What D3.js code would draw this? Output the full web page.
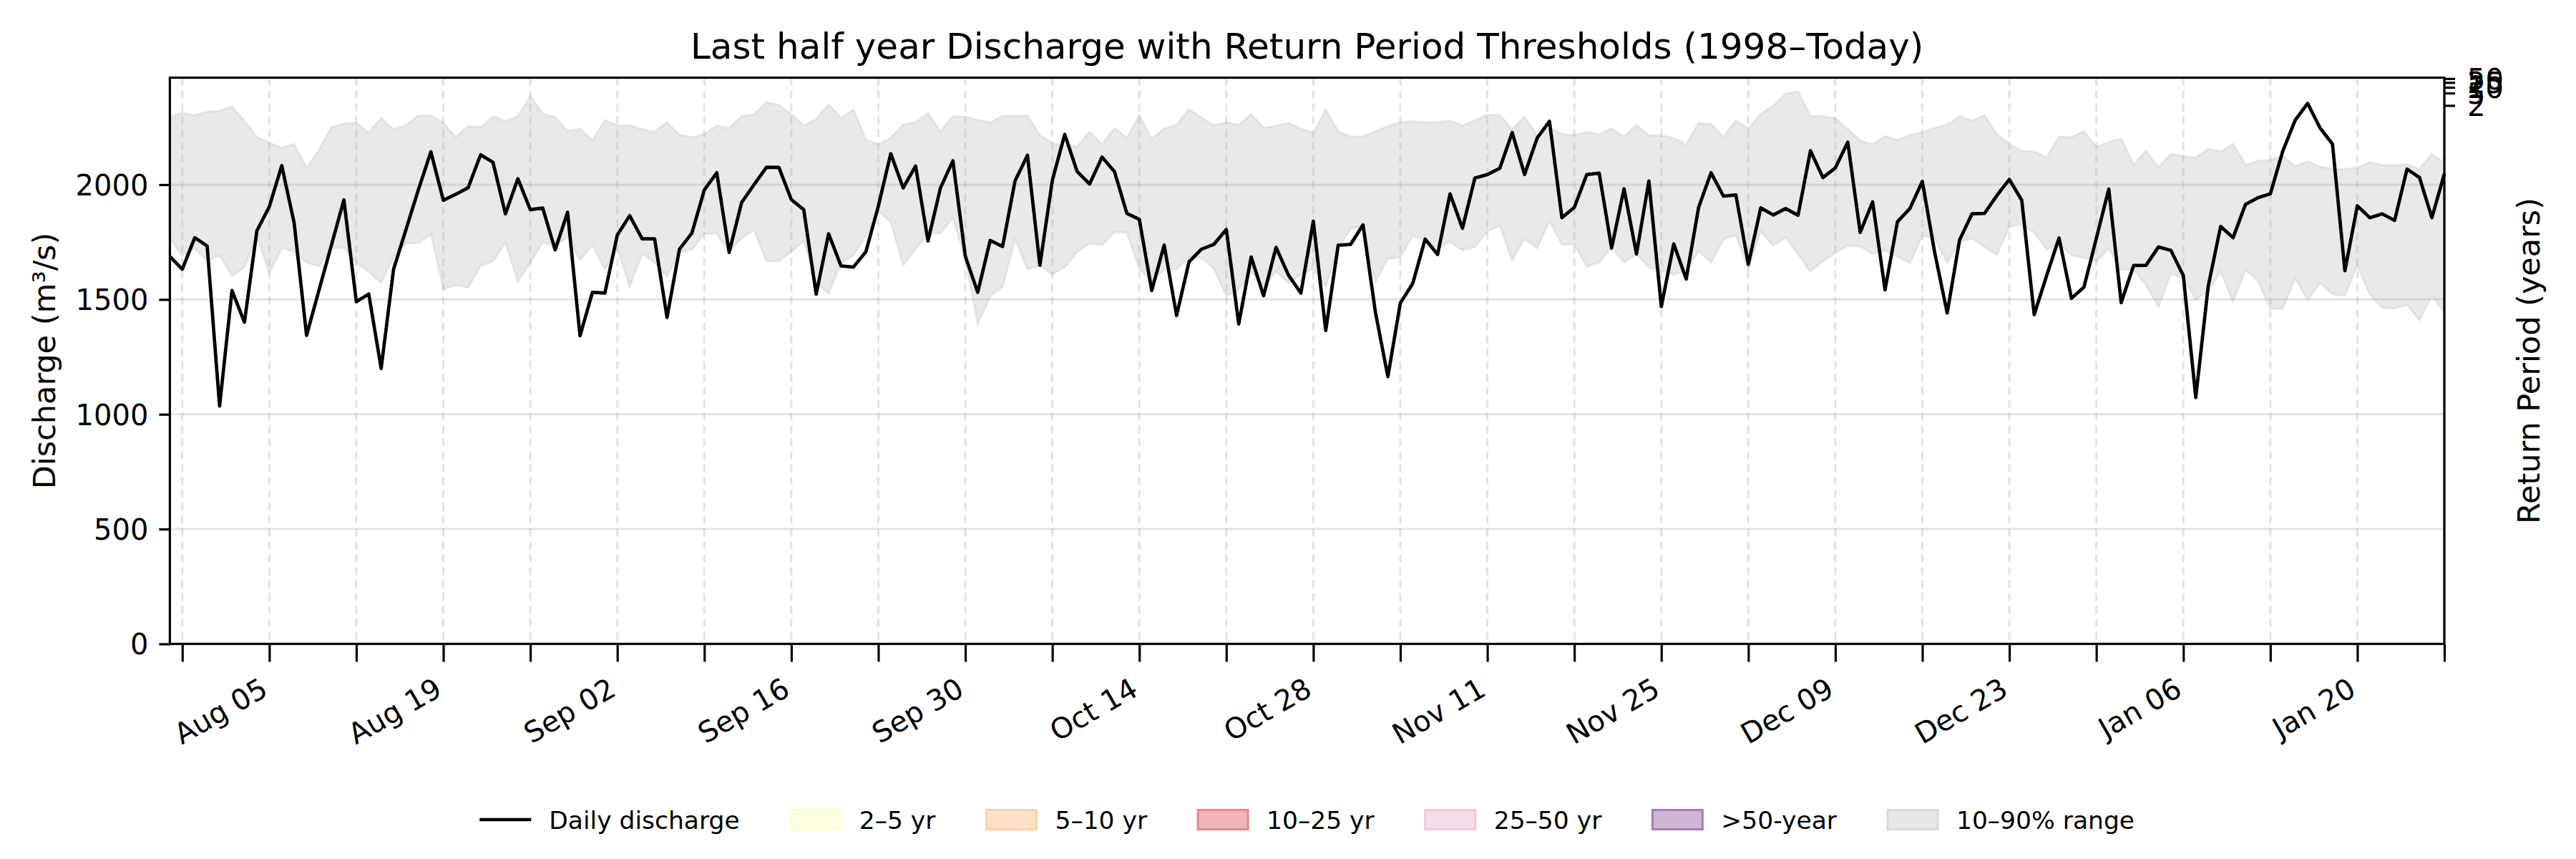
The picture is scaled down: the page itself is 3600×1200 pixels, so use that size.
<!DOCTYPE html>
<html>
<head>
<meta charset="utf-8">
<script src="https://cdn.jsdelivr.net/npm/d3@7"></script>
<style>
  body { margin: 0; background: #fff; }
  text { font-family: "DejaVu Sans", sans-serif; }
</style>
</head>
<body>
<div id="plot"></div>
<script>
/* Step 1
 * The data
 */
// =================================
var startDate = "2024-07-28";

// daily discharge (m3/s), one value per day from startDate
var discharge = [
    1687, 1632, 1769, 1733, 1036, 1539, 1401, 1799, 1904, 2083,
    1833, 1344, 1541, 1737, 1934, 1490, 1524, 1200, 1632, 1805,
    1979, 2143, 1932, 1958, 1987, 2130, 2097, 1873, 2026, 1891,
    1898, 1716, 1880, 1342, 1531, 1528, 1781, 1865, 1764, 1764,
    1422, 1719, 1789, 1977, 2052, 1705, 1922, 2000, 2076, 2075,
    1935, 1891, 1523, 1786, 1646, 1641, 1708, 1906, 2135, 1986,
    2081, 1755, 1986, 2104, 1688, 1531, 1757, 1731, 2016, 2128,
    1649, 2018, 2219, 2057, 2003, 2120, 2057, 1875, 1849, 1539,
    1737, 1430, 1664, 1719, 1740, 1805, 1393, 1685, 1516, 1727,
    1606, 1528, 1841, 1365, 1736, 1740, 1825, 1443, 1164, 1484,
    1570, 1763, 1696, 1960, 1810, 2029, 2044, 2071, 2227, 2044,
    2202, 2276, 1856, 1901, 2044, 2050, 1724, 1982, 1698, 2016,
    1469, 1742, 1589, 1901, 2052, 1950, 1955, 1653, 1899, 1868,
    1896, 1867, 2148, 2031, 2073, 2185, 1792, 1925, 1542, 1839,
    1896, 2014, 1703, 1441, 1760, 1873, 1875, 1953, 2023, 1932,
    1434, 1604, 1768, 1505, 1553, 1766, 1981, 1486, 1648, 1649,
    1729, 1714, 1604, 1073, 1557, 1818, 1769, 1914, 1943, 1960,
    2146, 2281, 2354, 2247, 2177, 1625, 1908, 1856, 1873, 1844,
    2068, 2031, 1856, 2047
];

// 90th percentile of the same day, 1998-today
var p90 = [
    2297, 2312, 2302, 2317, 2321, 2341, 2276, 2208, 2182, 2161,
    2177, 2073, 2151, 2250, 2266, 2269, 2226, 2290, 2240, 2260,
    2300, 2301, 2271, 2205, 2255, 2250, 2297, 2276, 2297, 2385,
    2309, 2295, 2234, 2242, 2193, 2281, 2257, 2258, 2242, 2231,
    2271, 2217, 2206, 2219, 2257, 2245, 2299, 2305, 2359, 2346,
    2307, 2257, 2286, 2349, 2289, 2328, 2195, 2175, 2203, 2260,
    2273, 2312, 2232, 2297, 2297, 2281, 2271, 2299, 2299, 2301,
    2216, 2182, 2169, 2165, 2229, 2177, 2245, 2203, 2302, 2199,
    2245, 2260, 2328, 2292, 2257, 2271, 2260, 2307, 2248, 2255,
    2269, 2243, 2224, 2326, 2232, 2209, 2209, 2232, 2255, 2273,
    2276, 2271, 2273, 2278, 2257, 2281, 2304, 2304, 2240, 2297,
    2214, 2250, 2219, 2216, 2229, 2219, 2245, 2209, 2260, 2214,
    2214, 2203, 2175, 2268, 2264, 2209, 2278, 2245, 2307, 2344,
    2396, 2406, 2299, 2297, 2289, 2242, 2193, 2175, 2211, 2195,
    2216, 2227, 2248, 2260, 2299, 2278, 2302, 2219, 2177, 2148,
    2144, 2118, 2209, 2206, 2232, 2164, 2185, 2201, 2086, 2147,
    2076, 2134, 2123, 2117, 2156, 2144, 2177, 2086, 2103, 2108,
    2126, 2080, 2101, 2078, 2068, 2068, 2075, 2097, 2086, 2084,
    2089, 2068, 2133, 2094
];

// 10th percentile of the same day
var p10 = [
    1766, 1690, 1724, 1667, 1693, 1602, 1641, 1776, 1615, 1724,
    1708, 1661, 1646, 1724, 1726, 1661, 1620, 1573, 1687, 1747,
    1745, 1786, 1545, 1563, 1552, 1646, 1667, 1750, 1578, 1661,
    1750, 1729, 1776, 1672, 1737, 1632, 1724, 1557, 1701, 1661,
    1601, 1705, 1719, 1786, 1786, 1711, 1766, 1805, 1667, 1667,
    1708, 1755, 1573, 1528, 1656, 1693, 1776, 1885, 1839, 1649,
    1719, 1785, 1789, 1857, 1672, 1394, 1513, 1555, 1762, 1632,
    1649, 1611, 1641, 1708, 1745, 1737, 1794, 1792, 1635, 1578,
    1632, 1632, 1684, 1682, 1635, 1516, 1539, 1620, 1557, 1622,
    1573, 1607, 1635, 1557, 1726, 1807, 1823, 1578, 1677, 1684,
    1776, 1760, 1719, 1753, 1714, 1729, 1797, 1823, 1672, 1766,
    1724, 1842, 1740, 1740, 1643, 1661, 1726, 1661, 1698, 1641,
    1625, 1610, 1625, 1711, 1661, 1762, 1781, 1630, 1797, 1734,
    1770, 1697, 1622, 1667, 1703, 1734, 1731, 1699, 1714, 1687,
    1659, 1778, 1768, 1659, 1755, 1766, 1729, 1695, 1818, 1826,
    1792, 1719, 1742, 1693, 1682, 1667, 1722, 1630, 1632, 1564,
    1469, 1612, 1594, 1500, 1536, 1622, 1492, 1630, 1580, 1460,
    1460, 1594, 1497, 1573, 1523, 1516, 1648, 1523, 1464, 1462,
    1477, 1411, 1518, 1445
];

// return period thresholds (right axis)
var returnPeriods = [2, 5, 10, 25, 50];
var thresholds = [2345, 2399, 2424, 2445, 2462];
var yMax = 2466;

var yTicks = [0, 500, 1000, 1500, 2000];
var xTickLabels = ["Aug 05", "Aug 19", "Sep 02", "Sep 16", "Sep 30", "Oct 14", "Oct 28",
    "Nov 11", "Nov 25", "Dec 09", "Dec 23", "Jan 06", "Jan 20"];

var legendLabels = ["Daily discharge", "2–5 yr", "5–10 yr", "10–25 yr", "25–50 yr", ">50-year", "10–90% range"];
var legendFills = [null, "#ffffe2", "#fde0c6", "#f2b4b4", "#f6dde9", "#cfb5d6", "#e7e7e7"];
var legendEdges = [null, "#fdfdcc", "#fcd0a6", "#e78888", "#f0c8dc", "#a87cb6", "#dadada"];

/* Step 2
 * Define the "workspace area"
 */
// =================================
var svgWidth = 3600;
var svgHeight = 1200;

var margin = {
    top: 108.5,
    right: 184,
    bottom: 300.5,
    left: 237.4
};

var width = svgWidth - margin.left - margin.right;
var height = svgHeight - margin.top - margin.bottom;

var svg = d3.select("#plot")
    .append("svg")
    .attr("width", svgWidth)
    .attr("height", svgHeight)
    .style("background", "#fff");

var chartGroup = svg.append("g")
    .attr("transform", `translate(${margin.left}, ${margin.top})`);

/* Step 3
 * Prep the data
 */
// =================================
var start = d3.utcParse("%Y-%m-%d")(startDate);
var series = discharge.map((q, i) => ({
    date: d3.utcDay.offset(start, i),
    q: q,
    lo: p10[i],
    hi: p90[i]
}));
var lastDate = series[series.length - 1].date;

/* Step 4
 * Scales
 */
// =================================
var xScale = d3.scaleUtc()
    .domain([start, lastDate])
    .range([0, width]);

var yScale = d3.scaleLinear()
    .domain([0, yMax])
    .range([height, 0]);

var weekTicks = d3.utcMonday.range(start, d3.utcDay.offset(lastDate, 1));
var fmt = d3.utcFormat("%b %d");

/* Step 5
 * Draw the chart
 */
// =================================
// 10-90% band
var area = d3.area()
    .x(d => xScale(d.date))
    .y0(d => yScale(d.lo))
    .y1(d => yScale(d.hi));

chartGroup.append("path")
    .datum(series)
    .attr("d", area)
    .attr("fill", "#d3d3d3")
    .attr("fill-opacity", 0.5)
    .attr("stroke", "#d3d3d3")
    .attr("stroke-opacity", 0.5)
    .attr("stroke-width", 3);

// grid
chartGroup.selectAll(".hgrid")
    .data(yTicks)
    .enter().append("line")
    .attr("x1", 0)
    .attr("x2", width)
    .attr("y1", d => yScale(d))
    .attr("y2", d => yScale(d))
    .attr("stroke", "#b0b0b0")
    .attr("stroke-opacity", 0.35)
    .attr("stroke-width", 3);

chartGroup.selectAll(".vgrid")
    .data(weekTicks)
    .enter().append("line")
    .attr("x1", d => xScale(d))
    .attr("x2", d => xScale(d))
    .attr("y1", 0)
    .attr("y2", height)
    .attr("stroke", "#b0b0b0")
    .attr("stroke-opacity", 0.35)
    .attr("stroke-width", 3)
    .attr("stroke-dasharray", "11,7");

// daily discharge
var line = d3.line()
    .x(d => xScale(d.date))
    .y(d => yScale(d.q));

chartGroup.append("path")
    .datum(series)
    .attr("d", line)
    .attr("fill", "none")
    .attr("stroke", "#000")
    .attr("stroke-width", 4.7)
    .attr("stroke-linejoin", "round");

// frame
chartGroup.append("rect")
    .attr("width", width)
    .attr("height", height)
    .attr("fill", "none")
    .attr("stroke", "#000")
    .attr("stroke-width", 3.2);

/* Step 6
 * Axes
 */
// =================================
function styleAxis(g) {
    g.attr("font-size", 40).attr("font-family", "DejaVu Sans");
    g.select(".domain").remove();
    g.selectAll(".tick line").attr("stroke", "#000").attr("stroke-width", 3.2);
    g.selectAll(".tick text").attr("fill", "#000");
}

var bottomAxis = d3.axisBottom(xScale)
    .tickValues(weekTicks)
    .tickSize(25)
    .tickSizeOuter(0)
    .tickFormat(d => xTickLabels.indexOf(fmt(d)) >= 0 ? fmt(d) : "");

var xAxisGroup = chartGroup.append("g")
    .attr("transform", `translate(0, ${height})`)
    .call(bottomAxis)
    .call(styleAxis);
xAxisGroup.selectAll(".tick text")
    .attr("y", null)
    .attr("dy", null)
    .attr("transform", "translate(0, 70.5) rotate(-30)")
    .attr("text-anchor", "end");

var leftAxis = d3.axisLeft(yScale)
    .tickValues(yTicks)
    .tickFormat(d3.format("d"))
    .tickSize(15)
    .tickSizeOuter(0)
    .tickPadding(15);

var yAxisGroup = chartGroup.append("g")
    .call(leftAxis)
    .call(styleAxis);
yAxisGroup.selectAll(".tick text").attr("dy", "0.36em");

// right axis: return period at each threshold (labels overlap as in the original)
var rightAxis = d3.axisRight(yScale)
    .tickValues(thresholds)
    .tickFormat((d, i) => returnPeriods[i])
    .tickSize(15)
    .tickSizeOuter(0)
    .tickPadding(17);

var rAxisGroup = chartGroup.append("g")
    .attr("transform", `translate(${width}, 0)`)
    .call(rightAxis)
    .call(styleAxis);
rAxisGroup.selectAll(".tick text").attr("dy", "0.36em");

/* Step 7
 * Titles
 */
// =================================
svg.append("text")
    .attr("x", margin.left + width / 2)
    .attr("y", 82)
    .attr("text-anchor", "middle")
    .attr("font-size", 50)
    .text("Last half year Discharge with Return Period Thresholds (1998–Today)");

svg.append("text")
    .attr("transform", `translate(77, ${margin.top + height / 2}) rotate(-90)`)
    .attr("text-anchor", "middle")
    .attr("font-size", 43)
    .text("Discharge (m³/s)");

svg.append("text")
    .attr("transform", `translate(3549, ${margin.top + height / 2}) rotate(-90)`)
    .attr("text-anchor", "middle")
    .attr("font-size", 43)
    .text("Return Period (years)");

/* Step 8
 * Legend under the chart
 */
// =================================
var handleW = 72, textPad = 25, colGap = 70;
var legendGroup = svg.append("g")
    .attr("transform", "translate(0, 1145)");

var items = legendGroup.selectAll(".legend-item")
    .data(legendLabels)
    .enter().append("g")
    .attr("class", "legend-item");

items.append("text")
    .attr("x", handleW + textPad)
    .attr("y", 12.5)
    .attr("font-size", 34.5)
    .text(d => d);

var widths = [];
items.select("text").each(function () { widths.push(this.getComputedTextLength()); });
var total = d3.sum(widths) + legendLabels.length * (handleW + textPad) + (legendLabels.length - 1) * colGap;
var cursor = margin.left + width / 2 - total / 2;
items.attr("transform", function (d, i) {
    var x = cursor;
    cursor += handleW + textPad + widths[i] + colGap;
    return `translate(${x}, 0)`;
});

items.each(function (d, i) {
    var g = d3.select(this);
    if (i === 0) {
        g.append("line")
            .attr("x1", 0)
            .attr("x2", handleW)
            .attr("y1", 0)
            .attr("y2", 0)
            .attr("stroke", "#000")
            .attr("stroke-width", 4.7);
    } else {
        g.append("rect")
            .attr("x", 1)
            .attr("y", -13.5)
            .attr("width", handleW - 2)
            .attr("height", 27)
            .attr("fill", legendFills[i])
            .attr("stroke", legendEdges[i])
            .attr("stroke-width", 3);
    }
});
</script>
</body>
</html>
